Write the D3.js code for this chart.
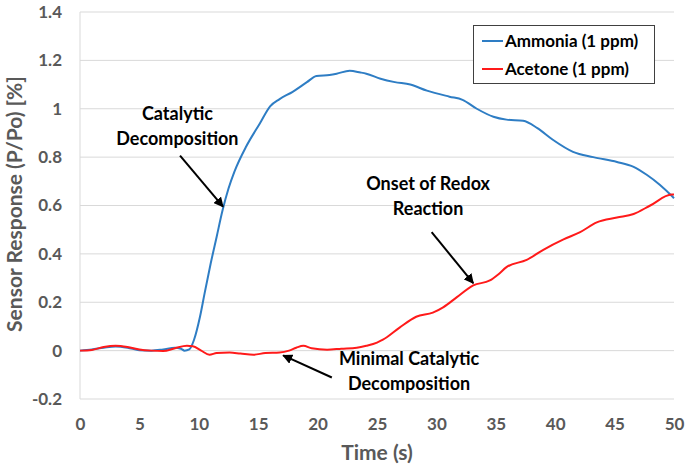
<!DOCTYPE html>
<html><head><meta charset="utf-8">
<script src="https://cdn.jsdelivr.net/npm/d3@7"></script>
<style>body{margin:0;background:#fff;}svg{display:block;}</style>
</head><body>
<svg id="c" width="685" height="470"></svg>
<script>
const xTicks = [0,5,10,15,20,25,30,35,40,45,50];
const yTicks = [-0.2,0,0.2,0.4,0.6,0.8,1,1.2,1.4];
const yTickLabels = ["-0.2","0","0.2","0.4","0.6","0.8","1","1.2","1.4"];
const seriesNames = ["Ammonia (1 ppm)","Acetone (1 ppm)"];

const ammoniaTime = [0,1,2,3,4,5,6,7,8,8.5,8.8,9.2,9.6,10.1,10.5,11.0,11.5,12.0,12.5,13.0,14.0,15.15,16,16.8,17.9,19.1,19.9,21,21.6,22.7,23.6,24.1,25.3,26.5,27.8,29.2,31.1,32.2,33.4,34.8,35.9,37.3,38.5,39.8,41.5,43.2,45.2,46.6,47.7,48.8,49.8,50];
const ammoniaValue = [0,0.005,0.012,0.017,0.012,0.002,0,0.005,0.012,0.008,0,0.005,0.045,0.14,0.24,0.36,0.47,0.58,0.67,0.74,0.845,0.94,1.01,1.04,1.07,1.11,1.135,1.14,1.145,1.157,1.15,1.145,1.124,1.11,1.10,1.075,1.05,1.037,1.0,0.967,0.955,0.95,0.92,0.872,0.822,0.80,0.78,0.76,0.727,0.686,0.64,0.63];

const acetoneTime = [0,1,2,3,4,5,6,7,8,9,9.5,10.2,10.9,11.5,12.6,13.5,14.6,15.6,16.8,17.6,18.2,18.8,19.5,20.8,22,23.3,24.1,25,25.5,26.9,28.3,29.7,30.6,31.7,33.1,34.5,35.2,35.9,37.6,39.0,40.7,42.1,43.5,45.2,46.6,48.0,49.8,50];
const acetoneValue = [0,0.003,0.015,0.02,0.015,0.005,0,-0.002,0.01,0.02,0.018,0,-0.017,-0.01,-0.008,-0.012,-0.017,-0.01,-0.008,0,0.012,0.02,0.01,0.004,0.008,0.012,0.02,0.033,0.045,0.095,0.14,0.157,0.18,0.22,0.27,0.29,0.315,0.345,0.375,0.417,0.46,0.49,0.53,0.55,0.565,0.60,0.645,0.645];

const annotationLines = [["Catalytic","Decomposition"],["Onset of Redox","Reaction"],["Minimal Catalytic","Decomposition"]];
const annotationAt = [[8.2,0.955],[29.3,0.665],[27.7,-0.06]];
const arrowFrom = [[8.42,0.806],[29.6,0.490],[21.2,-0.111]];
const arrowTo = [[12.04,0.595],[33.1,0.279],[17.1,-0.020]];

const svg = d3.select("#c");
const font = "Lato, 'Open Sans', sans-serif";
const x = d3.scaleLinear().domain([0,50]).range([80,674]);
const y = d3.scaleLinear().domain([-0.2,1.4]).range([399,12]);

// gridlines
svg.append("g").selectAll("line").data(yTicks).join("line")
  .attr("x1",x(0)).attr("x2",x(50)).attr("y1",d=>y(d)).attr("y2",d=>y(d))
  .attr("stroke","#d9d9d9").attr("stroke-width",1);
svg.append("line").attr("x1",x(0)).attr("x2",x(0)).attr("y1",y(1.4)).attr("y2",y(-0.2))
  .attr("stroke","#d9d9d9");

// axes
const yAxis = d3.axisLeft(y).tickValues(yTicks).tickSize(0).tickPadding(18)
  .tickFormat((d,i)=>yTickLabels[i]);
const gy = svg.append("g").attr("transform",`translate(${x(0)},0)`).call(yAxis);
gy.select(".domain").remove();
gy.selectAll("text").attr("font-family",font).attr("font-weight","bold").attr("font-size",17).attr("fill","#595959");

const xAxis = d3.axisBottom(x).tickValues(xTicks).tickSize(0).tickPadding(19);
const gx = svg.append("g").attr("transform",`translate(0,${y(-0.2)})`).call(xAxis);
gx.select(".domain").remove();
gx.selectAll("text").attr("font-family",font).attr("font-weight","bold").attr("font-size",17).attr("fill","#595959");

svg.append("text").attr("x",377).attr("y",460).attr("text-anchor","middle")
  .attr("font-family",font).attr("font-weight","bold").attr("font-size",21).attr("fill","#595959").text("Time (s)");
svg.append("text").attr("transform","translate(22,204) rotate(-90)").attr("text-anchor","middle")
  .attr("font-family",font).attr("font-weight","bold").attr("font-size",21).attr("fill","#595959").text("Sensor Response (P/Po) [%]");

// lines
const line = d3.line().x(d=>x(d[0])).y(d=>y(d[1])).curve(d3.curveMonotoneX);
const ammonia = ammoniaTime.map((t,i)=>[t,ammoniaValue[i]]);
const acetone = acetoneTime.map((t,i)=>[t,acetoneValue[i]]);
svg.append("path").datum(ammonia).attr("d",line).attr("fill","none").attr("stroke","#2e7dc4").attr("stroke-width",2);
svg.append("path").datum(acetone).attr("d",line).attr("fill","none").attr("stroke","#ff1a1a").attr("stroke-width",2);

// arrow marker
svg.append("defs").append("marker").attr("id","ah").attr("viewBox","0 0 10 10")
  .attr("refX",9).attr("refY",5).attr("markerWidth",5).attr("markerHeight",5).attr("orient","auto")
  .append("path").attr("d","M0,0 L10,5 L0,10 z").attr("fill","#000");

annotationLines.forEach((lines,i)=>{
  const t = svg.append("text").attr("text-anchor","middle").attr("font-family",font)
    .attr("font-weight","bold").attr("font-size",18).attr("fill","#000");
  lines.forEach((s,j)=>t.append("tspan").attr("x",x(annotationAt[i][0])).attr("y",y(annotationAt[i][1])+j*25).text(s));
  svg.append("line").attr("x1",x(arrowFrom[i][0])).attr("y1",y(arrowFrom[i][1]))
    .attr("x2",x(arrowTo[i][0])).attr("y2",y(arrowTo[i][1]))
    .attr("stroke","#000").attr("stroke-width",2).attr("marker-end","url(#ah)");
});

// legend
const lg = svg.append("g");
lg.append("rect").attr("x",473.5).attr("y",25.5).attr("width",181).attr("height",58)
  .attr("fill","#fff").attr("stroke","#404040").attr("stroke-width",1);
const colors = ["#2e7dc4","#ff1a1a"];
seriesNames.forEach((n,i)=>{
  const yy = 41 + i*28;
  lg.append("line").attr("x1",482).attr("x2",503).attr("y1",yy).attr("y2",yy).attr("stroke",colors[i]).attr("stroke-width",2);
  lg.append("text").attr("x",505).attr("y",yy+6).attr("font-family",font).attr("font-weight","bold")
    .attr("font-size",17).attr("fill","#000").text(n);
});
</script>
</body></html>
